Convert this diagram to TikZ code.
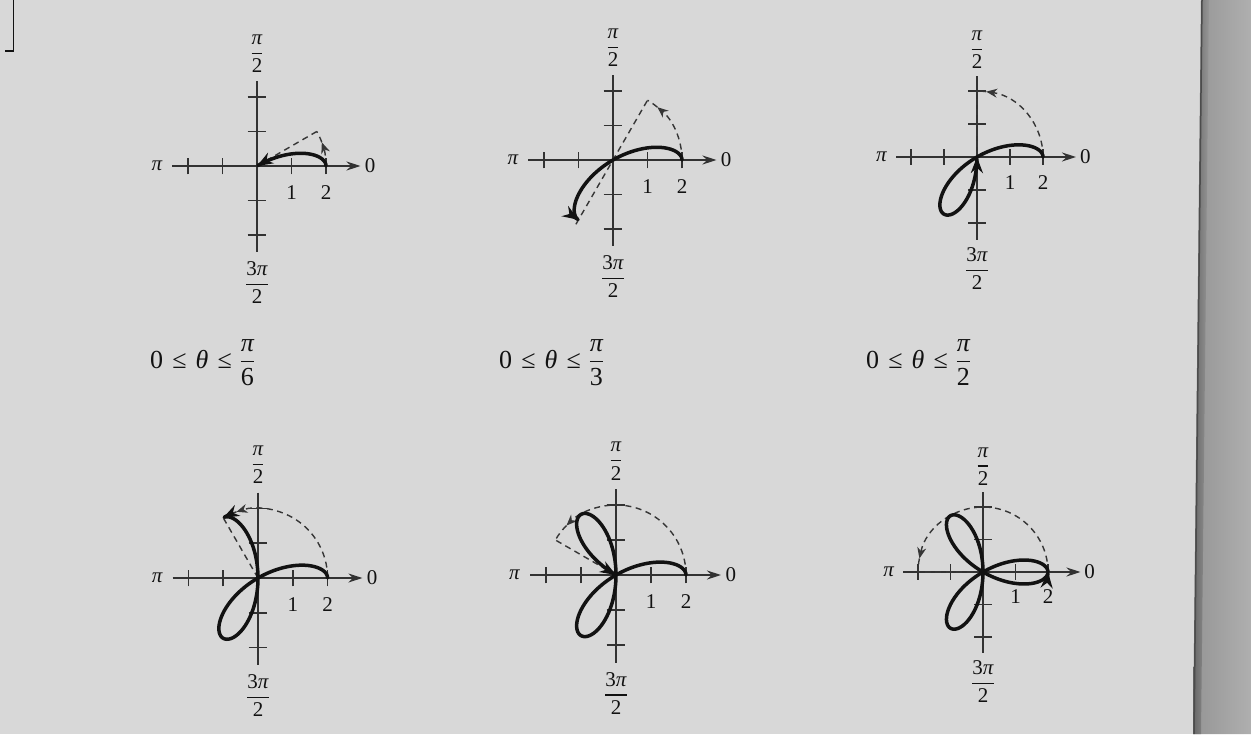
\documentclass[tikz,border=0pt]{standalone}
\usepackage{fontspec}
\setmainfont{Liberation Serif}
\usetikzlibrary{arrows.meta}
\definecolor{pagebg}{RGB}{216,216,216}
\definecolor{ink}{RGB}{18,18,18}
\definecolor{axisc}{RGB}{50,50,50}
\definecolor{edgel}{RGB}{150,150,150}
\definecolor{edger}{RGB}{175,175,175}
\newcommand\pfrac[2]{$\displaystyle{\mbox{#1}\above1.4pt\mbox{#2}}$}
\newcommand\polaraxes[1]{%
  \draw[axisline,-{Stealth[length=14pt,width=9pt]}] (-2.45,0) -- (3,0);
  \draw[axisline] (0,2.45) -- (0,-2.5);
  \foreach \tk in {-2,-1,1,2} {
    \draw[axisline] (\tk,-0.24) -- (\tk,0.24);
    \draw[axisline] (-0.27,\tk) -- (0.27,\tk);
  }
  \node[lbl] (#1pi) at (-2.9,0) {\itshape π};
  \node[lbl] (#1zero) at (3.28,0) {0};
  \node[lbl] (#1top) at (0,3.25) {\pfrac{\itshape π}{2}};
  \node[lbl] (#1bot) at (0,-3.38) {\pfrac{3{\itshape π}}{2}};
  \node[lbl] (#1one) at (1,-0.76) {1};
  \node[lbl] (#1two) at (2,-0.76) {2};
}
\newcommand\rose[1]{%
  \draw[curve,-{Stealth[length=16pt,width=12pt]}] plot[domain=0:#1,samples=121,smooth,variable=\a] ({2*cos(3*\a)*cos(\a)},{2*cos(3*\a)*sin(\a)});
}
\newcommand\sweep[2]{%
  \draw[dashline,-{Stealth[length=11pt,width=9pt]}] (0:2) arc[start angle=0,end angle=#1,radius=2];
  \draw[dashline] (#1:2) arc[start angle=#1,end angle=#2,radius=2];
}
\tikzset{
  axisline/.style={draw=axisc,line width=1.5pt},
  curve/.style={draw=ink,line width=3.5pt,line cap=round,line join=round},
  dashline/.style={draw=ink!85,line width=1.4pt,dash pattern=on 6pt off 4.5pt},
  lbl/.style={inner sep=0pt,text=ink,font=\fontsize{21}{25}\selectfont},
  captext/.style={inner sep=0pt,text=ink,font=\fontsize{26}{30}\selectfont},
}
\begin{document}
\begin{tikzpicture}[x=1pt,y=-1pt]
\useasboundingbox (0,0) rectangle (1251,734);
\fill[pagebg] (0,0) rectangle (1251,734);
% right page edge
\shade[left color=edgel,right color=edger] (1203,0) -- (1251,0) -- (1251,734) -- (1195,734) -- cycle;
\shade[left color=black!60,right color=edgel] (1201,0) -- (1209,0) -- (1201,734) -- (1193,734) -- cycle;
\draw[black!70,line width=1.5pt] (1202,0) -- (1194,734);
% top-left corner of a box
\draw[ink,line width=1.6pt] (5,51) -- (13.5,51) -- (13.5,0);

% panel 1
\begin{scope}[shift={(257,166)},x=34.5pt,y=34.5pt]
  \polaraxes{a}
  \draw[dashline] (0,0) -- (30:2);
  \sweep{20}{30}
  \rose{30}
\end{scope}
% panel 2
\begin{scope}[shift={(613,160)},x=34.5pt,y=34.5pt]
  \polaraxes{b}
  \draw[dashline] (240:2.15) -- (60:2);
  \sweep{50}{60}
  \rose{60}
\end{scope}
% panel 3
\begin{scope}[shift={(977,157)},x=33pt,y=33pt]
  \polaraxes{c}
  \draw[dashline,line width=1.9pt] (0,0) -- (90:2);
  \sweep{82}{90}
  \rose{90}
\end{scope}
% panel 4
\begin{scope}[shift={(258,578)},x=34.8pt,y=34.8pt]
  \polaraxes{d}
  \draw[dashline] (0,0) -- (120:2);
  \sweep{108}{120}
  \rose{120}
\end{scope}
% panel 5
\begin{scope}[shift={(616,575)},x=35pt,y=35pt]
  \polaraxes{e}
  \draw[dashline] (0,0) -- (150:2);
  \sweep{135}{150}
  \rose{150}
\end{scope}
% panel 6
\begin{scope}[shift={(983,572)},x=32.5pt,y=32.5pt]
  \polaraxes{f}
  \draw[dashline,line width=1.9pt] (0,0) -- (180:2);
  \sweep{168}{180}
  \rose{180}
\end{scope}

% captions
\node[captext,anchor=base west] (cap1) at (150,368) {0\hspace{0.35em}≤\hspace{0.35em}{\itshape θ}\hspace{0.35em}≤\hspace{0.3em}\pfrac{\itshape π}{6}};
\node[captext,anchor=base west] (cap2) at (499,368) {0\hspace{0.35em}≤\hspace{0.35em}{\itshape θ}\hspace{0.35em}≤\hspace{0.3em}\pfrac{\itshape π}{3}};
\node[captext,anchor=base west] (cap3) at (866,368) {0\hspace{0.35em}≤\hspace{0.35em}{\itshape θ}\hspace{0.35em}≤\hspace{0.3em}\pfrac{\itshape π}{2}};
\end{tikzpicture}
\end{document}
